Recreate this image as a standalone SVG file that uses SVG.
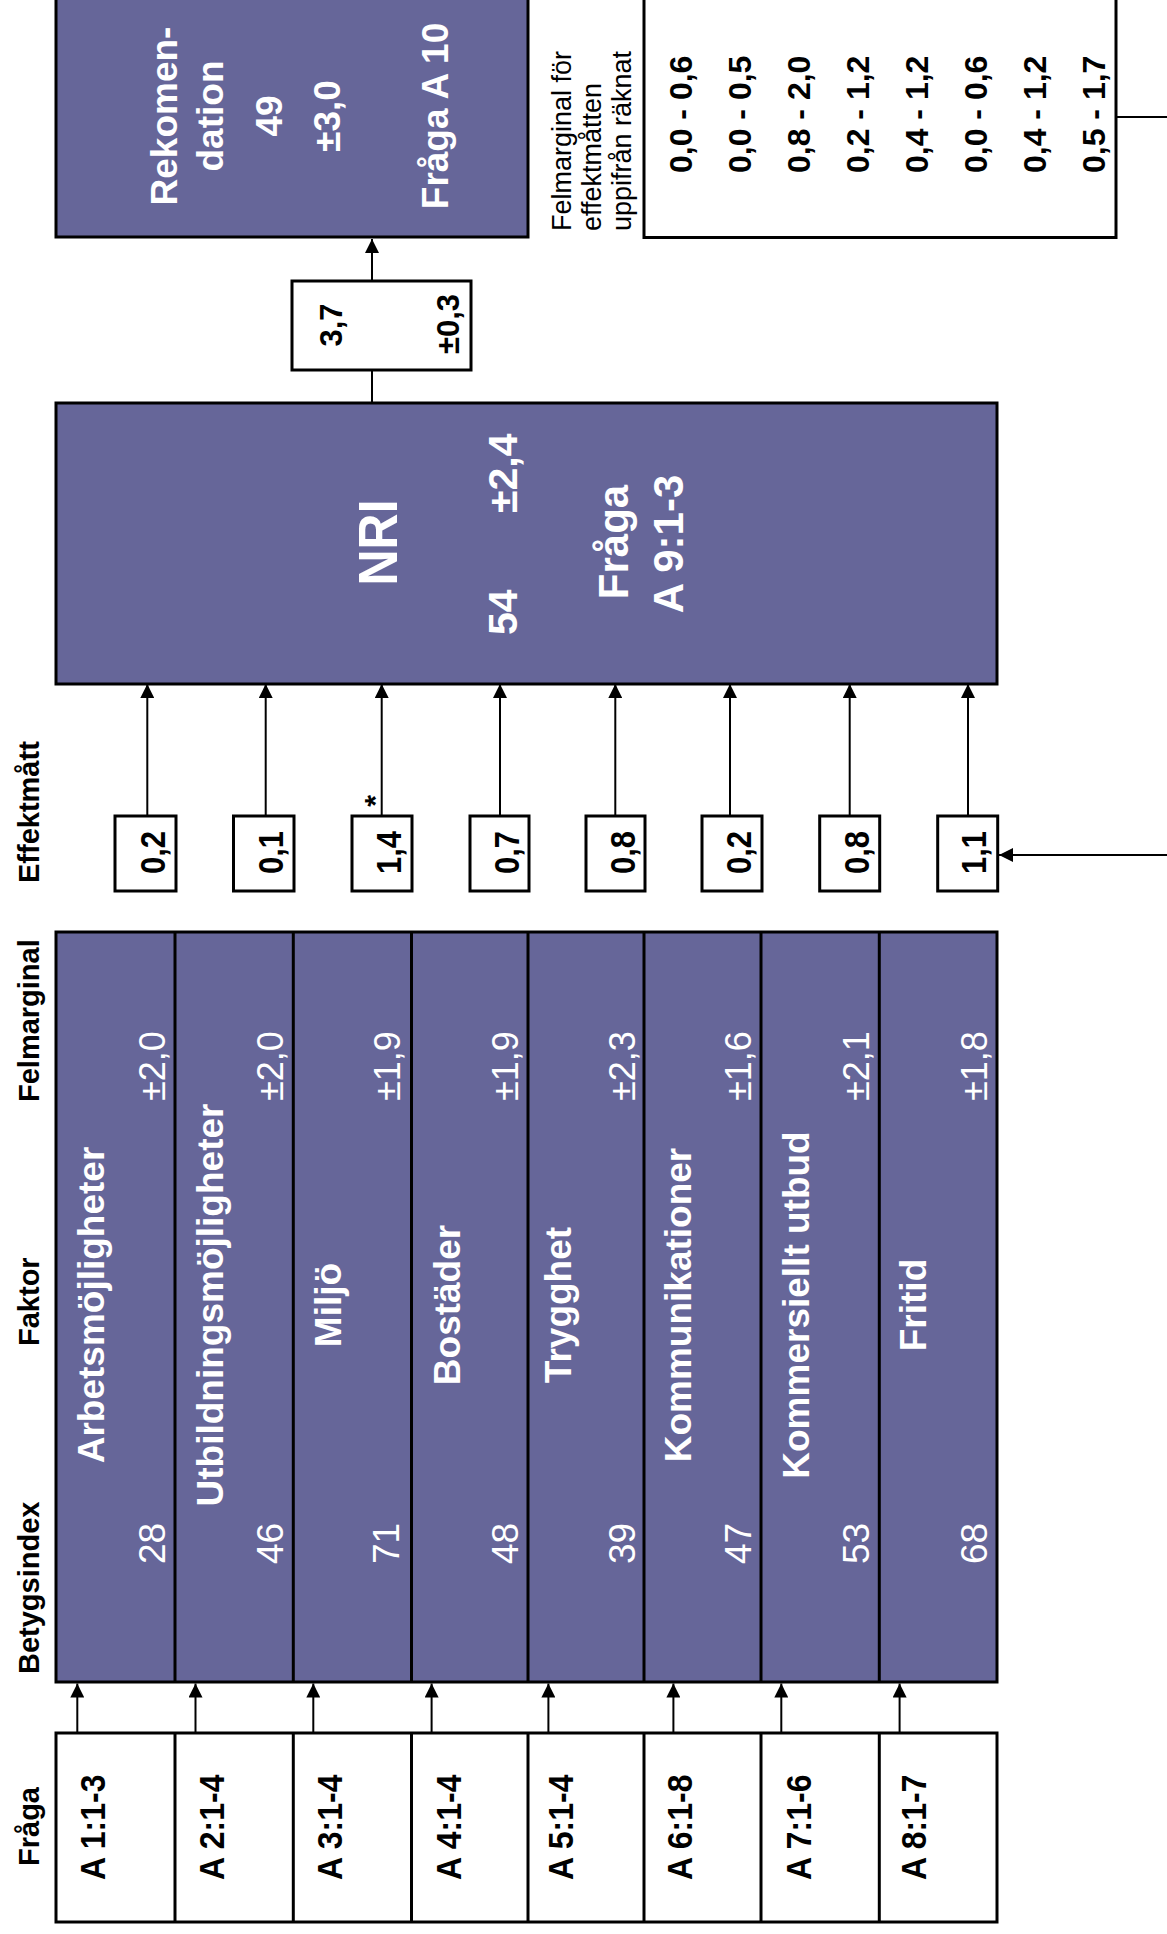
<svg xmlns="http://www.w3.org/2000/svg" width="1167" height="1934" viewBox="0 0 1167 1934">
<defs>
<style>
.box{fill:#666699;stroke:#000;stroke-width:3}
.wbox{fill:#fff;stroke:#000;stroke-width:3}
.div{stroke:#000;stroke-width:3}
.t{font-family:"Liberation Sans",Arial,Helvetica,sans-serif}
.b{font-weight:bold}
.w{fill:#fff}
.k{fill:#000}
.m{text-anchor:middle}
.hdr{font-size:29px;font-weight:bold;fill:#000}
.fn{font-size:37px;font-weight:bold;fill:#fff;text-anchor:middle}
.num{font-size:37px;fill:#fff}
.pm{font-size:36px;fill:#fff}
.q{font-size:32px;font-weight:bold;fill:#000}
.ef{font-size:31px;font-weight:bold;fill:#000;text-anchor:middle}
.rg{font-size:32px;font-weight:bold;fill:#000}
.conn{stroke:#000;stroke-width:2;fill:none}
</style>
<marker id="ah" viewBox="0 0 14 14" refX="14" refY="7" markerWidth="14" markerHeight="14" markerUnits="userSpaceOnUse" orient="auto">
<path d="M0,0 L14,7 L0,14 z" fill="#000"/>
</marker>
</defs>
<rect width="1167" height="1934" fill="#fff"/>

<g id="headers" class="t">
<text class="hdr" transform="translate(38.5,883) rotate(-90)">Effektmått</text>
<text class="hdr" transform="translate(38.5,1102) rotate(-90)">Felmarginal</text>
<text class="hdr" transform="translate(38.5,1346) rotate(-90)">Faktor</text>
<text class="hdr" transform="translate(38.5,1674) rotate(-90)">Betygsindex</text>
<text class="hdr" transform="translate(38.5,1866) rotate(-90)">Fråga</text>
</g>

<g id="rekommendation" class="t">
<rect class="box" x="56" y="-10" width="472" height="247"/>
<text class="b w m" font-size="37" transform="translate(177,116) rotate(-90)">Rekomen-</text>
<text class="b w m" font-size="37" transform="translate(223,116) rotate(-90)">dation</text>
<text class="b w m" font-size="37" transform="translate(282,116) rotate(-90)">49</text>
<text class="b w m" font-size="37" transform="translate(340,116) rotate(-90)">±3,0</text>
<text class="b w m" font-size="37" transform="translate(448,116) rotate(-90)">Fråga A 10</text>
</g>

<g id="felmarginal-effektmatt" class="t">
<rect class="wbox" x="644" y="-10" width="472" height="247.5"/>
<text class="k" font-size="27" transform="translate(571,231) rotate(-90)">Felmarginal för</text>
<text class="k" font-size="27" transform="translate(601,231) rotate(-90)">effektmåtten</text>
<text class="k" font-size="27" transform="translate(631,231) rotate(-90)">uppifrån räknat</text>
<text class="rg" transform="translate(692,173) rotate(-90)">0,0 - 0,6</text>
<text class="rg" transform="translate(751,173) rotate(-90)">0,0 - 0,5</text>
<text class="rg" transform="translate(810,173) rotate(-90)">0,8 - 2,0</text>
<text class="rg" transform="translate(869,173) rotate(-90)">0,2 - 1,2</text>
<text class="rg" transform="translate(928,173) rotate(-90)">0,4 - 1,2</text>
<text class="rg" transform="translate(987,173) rotate(-90)">0,0 - 0,6</text>
<text class="rg" transform="translate(1046,173) rotate(-90)">0,4 - 1,2</text>
<text class="rg" transform="translate(1105,173) rotate(-90)">0,5 - 1,7</text>
</g>

<g id="effekt-nri" class="t">
<rect class="wbox" x="292" y="281" width="179" height="89"/>
<text class="b k m" font-size="31" transform="translate(342,325) rotate(-90)">3,7</text>
<text class="b k m" font-size="31" transform="translate(459,324) rotate(-90)">±0,3</text>
</g>

<g id="nri" class="t">
<rect class="box" x="56" y="403" width="941" height="281"/>
<text class="b w m" font-size="50" transform="translate(397,542.5) rotate(-90) scale(1,1.1)">NRI</text>
<text class="b w" font-size="41" transform="translate(517,635) rotate(-90)">54</text>
<text class="b w" font-size="41" transform="translate(517,513) rotate(-90)">±2,4</text>
<text class="b w m" font-size="42" transform="translate(627.5,542) rotate(-90)">Fråga</text>
<text class="b w m" font-size="42" transform="translate(682.5,544) rotate(-90)">A 9:1-3</text>
</g>

<g id="effektmatt" class="t">
<rect class="wbox" x="115" y="816" width="61" height="75"/>
<rect class="wbox" x="233.5" y="816" width="60.5" height="75"/>
<rect class="wbox" x="352" y="816" width="60" height="75"/>
<rect class="wbox" x="470" y="816" width="59" height="75"/>
<rect class="wbox" x="586" y="816" width="59" height="75"/>
<rect class="wbox" x="702" y="816" width="60" height="75"/>
<rect class="wbox" x="819.7" y="816" width="60" height="75"/>
<rect class="wbox" x="937.7" y="816" width="60" height="75"/>
<text class="ef" transform="translate(165,852.5) rotate(-90) scale(1,1.12)">0,2</text>
<text class="ef" transform="translate(283,852.5) rotate(-90) scale(1,1.12)">0,1</text>
<text class="ef" transform="translate(401,852.5) rotate(-90) scale(1,1.12)">1,4</text>
<text class="ef" transform="translate(519,852.5) rotate(-90) scale(1,1.12)">0,7</text>
<text class="ef" transform="translate(635,852.5) rotate(-90) scale(1,1.12)">0,8</text>
<text class="ef" transform="translate(751,852.5) rotate(-90) scale(1,1.12)">0,2</text>
<text class="ef" transform="translate(869,852.5) rotate(-90) scale(1,1.12)">0,8</text>
<text class="ef" transform="translate(986,852.5) rotate(-90) scale(1,1.12)">1,1</text>
<text class="b k m" font-size="30" transform="translate(385,801) rotate(-90)">*</text>
</g>

<g id="faktorer" class="t">
<rect class="box" x="56" y="932" width="941" height="750"/>
<line class="div" x1="175" y1="932" x2="175" y2="1682"/>
<line class="div" x1="293.3" y1="932" x2="293.3" y2="1682"/>
<line class="div" x1="411.5" y1="932" x2="411.5" y2="1682"/>
<line class="div" x1="528" y1="932" x2="528" y2="1682"/>
<line class="div" x1="644" y1="932" x2="644" y2="1682"/>
<line class="div" x1="761" y1="932" x2="761" y2="1682"/>
<line class="div" x1="879.3" y1="932" x2="879.3" y2="1682"/>
<text class="fn" transform="translate(104,1305) rotate(-90)">Arbetsmöjligheter</text>
<text class="fn" transform="translate(223,1305) rotate(-90)">Utbildningsmöjligheter</text>
<text class="fn" transform="translate(341,1305) rotate(-90)">Miljö</text>
<text class="fn" transform="translate(460,1305) rotate(-90)">Bostäder</text>
<text class="fn" transform="translate(571,1305) rotate(-90)">Trygghet</text>
<text class="fn" transform="translate(691,1305) rotate(-90)">Kommunikationer</text>
<text class="fn" transform="translate(809,1305) rotate(-90)">Kommersiellt utbud</text>
<text class="fn" transform="translate(925.5,1305) rotate(-90)">Fritid</text>
<text class="num" transform="translate(165,1564) rotate(-90)">28</text>
<text class="num" transform="translate(283,1564) rotate(-90)">46</text>
<text class="num" transform="translate(399,1564) rotate(-90)">71</text>
<text class="num" transform="translate(518,1564) rotate(-90)">48</text>
<text class="num" transform="translate(634.5,1564) rotate(-90)">39</text>
<text class="num" transform="translate(751,1564) rotate(-90)">47</text>
<text class="num" transform="translate(869,1564) rotate(-90)">53</text>
<text class="num" transform="translate(987,1564) rotate(-90)">68</text>
<text class="pm" transform="translate(165,1101) rotate(-90)">±2,0</text>
<text class="pm" transform="translate(283,1101) rotate(-90)">±2,0</text>
<text class="pm" transform="translate(400,1101) rotate(-90)">±1,9</text>
<text class="pm" transform="translate(518,1101) rotate(-90)">±1,9</text>
<text class="pm" transform="translate(634.5,1101) rotate(-90)">±2,3</text>
<text class="pm" transform="translate(751,1101) rotate(-90)">±1,6</text>
<text class="pm" transform="translate(869,1101) rotate(-90)">±2,1</text>
<text class="pm" transform="translate(987,1101) rotate(-90)">±1,8</text>
</g>

<g id="fragor" class="t">
<rect class="wbox" x="56" y="1733" width="941" height="189"/>
<line class="div" x1="175" y1="1733" x2="175" y2="1922"/>
<line class="div" x1="293.3" y1="1733" x2="293.3" y2="1922"/>
<line class="div" x1="411.5" y1="1733" x2="411.5" y2="1922"/>
<line class="div" x1="528" y1="1733" x2="528" y2="1922"/>
<line class="div" x1="644" y1="1733" x2="644" y2="1922"/>
<line class="div" x1="761" y1="1733" x2="761" y2="1922"/>
<line class="div" x1="879.3" y1="1733" x2="879.3" y2="1922"/>
<text class="q" transform="translate(105,1880) rotate(-90) scale(1,1.12)">A 1:1-3</text>
<text class="q" transform="translate(224,1880) rotate(-90) scale(1,1.12)">A 2:1-4</text>
<text class="q" transform="translate(342,1880) rotate(-90) scale(1,1.12)">A 3:1-4</text>
<text class="q" transform="translate(460.5,1880) rotate(-90) scale(1,1.12)">A 4:1-4</text>
<text class="q" transform="translate(573,1880) rotate(-90) scale(1,1.12)">A 5:1-4</text>
<text class="q" transform="translate(692,1880) rotate(-90) scale(1,1.12)">A 6:1-8</text>
<text class="q" transform="translate(811,1880) rotate(-90) scale(1,1.12)">A 7:1-6</text>
<text class="q" transform="translate(926,1880) rotate(-90) scale(1,1.12)">A 8:1-7</text>
</g>

<g id="connectors">
<line class="conn" x1="372" y1="403" x2="372" y2="370"/>
<line class="conn" x1="372" y1="281" x2="372" y2="239" marker-end="url(#ah)"/>
<line class="conn" x1="1116" y1="117" x2="1167" y2="117"/>
<line class="conn" x1="1167" y1="855" x2="999" y2="855" marker-end="url(#ah)"/>
<line class="conn" x1="147.3" y1="816" x2="147.3" y2="684" marker-end="url(#ah)"/>
<line class="conn" x1="265.7" y1="816" x2="265.7" y2="684" marker-end="url(#ah)"/>
<line class="conn" x1="381.7" y1="816" x2="381.7" y2="684" marker-end="url(#ah)"/>
<line class="conn" x1="500" y1="816" x2="500" y2="684" marker-end="url(#ah)"/>
<line class="conn" x1="615.3" y1="816" x2="615.3" y2="684" marker-end="url(#ah)"/>
<line class="conn" x1="730" y1="816" x2="730" y2="684" marker-end="url(#ah)"/>
<line class="conn" x1="849.7" y1="816" x2="849.7" y2="684" marker-end="url(#ah)"/>
<line class="conn" x1="968" y1="816" x2="968" y2="684" marker-end="url(#ah)"/>
<line class="conn" x1="77.3" y1="1733" x2="77.3" y2="1683.5" marker-end="url(#ah)"/>
<line class="conn" x1="195.5" y1="1733" x2="195.5" y2="1683.5" marker-end="url(#ah)"/>
<line class="conn" x1="313.3" y1="1733" x2="313.3" y2="1683.5" marker-end="url(#ah)"/>
<line class="conn" x1="431.6" y1="1733" x2="431.6" y2="1683.5" marker-end="url(#ah)"/>
<line class="conn" x1="548.4" y1="1733" x2="548.4" y2="1683.5" marker-end="url(#ah)"/>
<line class="conn" x1="673.4" y1="1733" x2="673.4" y2="1683.5" marker-end="url(#ah)"/>
<line class="conn" x1="781.3" y1="1733" x2="781.3" y2="1683.5" marker-end="url(#ah)"/>
<line class="conn" x1="899.6" y1="1733" x2="899.6" y2="1683.5" marker-end="url(#ah)"/>
</g>
</svg>
